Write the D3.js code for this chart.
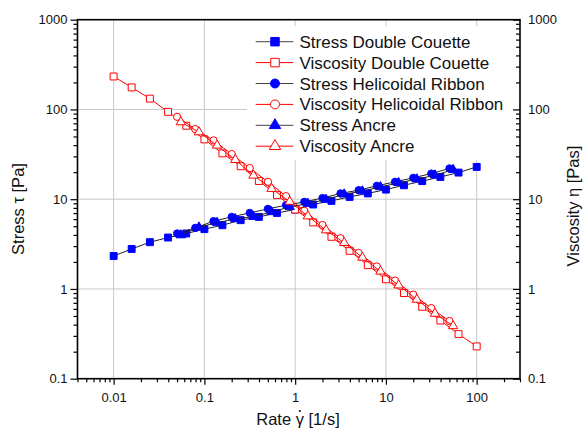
<!DOCTYPE html>
<html>
<head>
<meta charset="utf-8">
<script src="https://cdn.jsdelivr.net/npm/d3@7"></script>
<style>
  body { margin: 0; background: #fff; }
  svg { display: block; font-family: "Liberation Sans", Arial, sans-serif; }
</style>
</head>
<body>
<svg id="chart" width="584" height="432"></svg>
<script>
// shear rates [1/s]
const rateDC = [0.01, 0.0158, 0.0251, 0.0398, 0.0631, 0.1, 0.158, 0.251, 0.398, 0.631, 1,
                1.58, 2.51, 3.98, 6.31, 10, 15.8, 25.1, 39.8, 63.1, 100];
const rateHR = [0.0501, 0.0794, 0.126, 0.2, 0.316, 0.501, 0.794, 1.26, 2, 3.16, 5.01,
                7.94, 12.6, 20, 31.6, 50.1];
const rateAN = [0.055, 0.0871, 0.138, 0.219, 0.347, 0.55, 0.871, 1.38, 2.19, 3.47, 5.5,
                8.71, 13.8, 21.9, 34.7, 55];

// stress [Pa]
const stressDC = [2.33, 2.79, 3.32, 3.74, 4.15, 4.64, 5.13, 5.84, 6.35, 7.03, 7.67,
                  8.73, 9.58, 10.6, 11.6, 12.8, 14.3, 15.9, 17.7, 19.8, 22.9];
const stressHR = [4.15, 4.79, 5.69, 6.35, 7.03, 7.8, 8.58, 9.33, 10.3, 11.6, 12.6,
                  14.1, 15.6, 17.3, 19.3, 22.0];
const stressAN = [3.98, 4.87, 5.48, 6.02, 6.38, 7.21, 8.2, 8.93, 9.9, 11.35, 12.3,
                  13.7, 15.2, 16.7, 18.5, 21.3];

// viscosity [Pas]
const viscDC = [233, 176, 132, 94, 65.8, 46.4, 32.4, 23.3, 15.95, 11.1, 7.67,
                5.51, 3.81, 2.66, 1.84, 1.28, 0.9, 0.633, 0.445, 0.314, 0.229];
const viscHR = [82.8, 60.3, 45.2, 31.8, 22.2, 15.6, 10.8, 7.41, 5.15, 3.67, 2.52,
                1.78, 1.24, 0.865, 0.611, 0.439];
const viscAN = [72.3, 55.9, 39.7, 27.5, 18.4, 13.1, 9.4, 6.47, 4.52, 3.27, 2.24,
                1.57, 1.1, 0.762, 0.532, 0.387];

const xMajor = [0.01, 0.1, 1, 10, 100];
const yMajor = [0.1, 1, 10, 100, 1000];

const series = [
    { name: "Stress Double Couette",     x: rateDC, y: stressDC, shape: "square",   fill: true,  line: "#222" },
    { name: "Viscosity Double Couette",  x: rateDC, y: viscDC,   shape: "square",   fill: false, line: "#ff0000" },
    { name: "Stress Helicoidal Ribbon",  x: rateHR, y: stressHR, shape: "circle",   fill: true,  line: "#222" },
    { name: "Viscosity Helicoidal Ribbon", x: rateHR, y: viscHR, shape: "circle",   fill: false, line: "#ff0000" },
    { name: "Stress Ancre",              x: rateAN, y: stressAN, shape: "triangle", fill: true,  line: "#222" },
    { name: "Viscosity Ancre",           x: rateAN, y: viscAN,   shape: "triangle", fill: false, line: "#ff0000" }
];

const plotL = 77.5, plotR = 520, plotT = 19.7, plotB = 378.7;

const svg = d3.select("#chart");

const x = d3.scaleLog().domain([0.004, 300]).range([plotL, plotR]);
const y = d3.scaleLog().domain([0.1, 1000]).range([plotB, plotT]);

const xMinor = x.ticks().filter(v => !xMajor.some(m => Math.abs(m - v) / m < 1e-6));
const yMinor = y.ticks().filter(v => !yMajor.some(m => Math.abs(m - v) / m < 1e-6));

// grid
const grid = svg.append("g").attr("stroke", "#c8c8c8").attr("stroke-width", 1);
grid.selectAll("line.gx").data(xMajor).enter().append("line")
    .attr("x1", d => x(d)).attr("x2", d => x(d))
    .attr("y1", plotT).attr("y2", plotB);
grid.selectAll("line.gy").data(yMajor.slice(1, -1)).enter().append("line")
    .attr("x1", plotL).attr("x2", plotR)
    .attr("y1", d => y(d)).attr("y2", d => y(d));

// legend background hides the grid
svg.append("rect").attr("x", 247).attr("y", 26).attr("width", 268).attr("height", 134)
    .attr("fill", "#fff");

const symbolType = { square: d3.symbolSquare, circle: d3.symbolCircle, triangle: d3.symbolTriangle };
const symbolSize = { square: 48, circle: 42, triangle: 38 };

function marker(sel, s) {
    sel.attr("d", d3.symbol().type(symbolType[s.shape]).size(symbolSize[s.shape]))
        .attr("fill", s.fill ? "#0000ff" : "#fff")
        .attr("stroke", s.fill ? "#0000ff" : "#ff0000")
        .attr("stroke-width", 1);
}

const line = d3.line().x(d => x(d[0])).y(d => y(d[1]));

series.forEach(s => {
    const pts = s.x.map((v, i) => [v, s.y[i]]);
    const g = svg.append("g");
    g.append("path")
        .attr("d", line(pts))
        .attr("fill", "none")
        .attr("stroke", s.line)
        .attr("stroke-width", 1);
    g.selectAll("path.pt").data(pts).enter().append("path")
        .attr("class", "pt")
        .attr("transform", d => `translate(${x(d[0])},${y(d[1])})`)
        .call(marker, s);
});

// legend
const leg = svg.append("g");
series.forEach((s, i) => {
    const cy = 41.7 + i * 20.9;
    leg.append("line").attr("x1", 255.7).attr("x2", 293.3).attr("y1", cy).attr("y2", cy)
        .attr("stroke", s.line === "#222" ? "#444" : s.line).attr("stroke-width", 1);
    leg.append("path").attr("transform", `translate(275,${cy})`).call(marker, s)
        .attr("d", d3.symbol().type(symbolType[s.shape]).size(symbolSize[s.shape] * 1.5));
    leg.append("text").attr("x", 299.5).attr("y", cy + 6)
        .attr("font-size", 17).attr("fill", "#111").text(s.name);
});

// axes
const fmt = d => String(d);

function styleAxis(g) {
    g.select(".domain").remove();
    g.selectAll("line").attr("stroke", "#000").attr("stroke-width", 1.2);
    g.selectAll("text").attr("font-size", 13).attr("fill", "#111")
        .attr("font-family", '"Liberation Sans", Arial, sans-serif');
}

svg.append("g").attr("transform", `translate(0,${plotB})`)
    .call(d3.axisBottom(x).tickValues(xMinor).tickSize(3.5).tickFormat(""))
    .call(styleAxis);
svg.append("g").attr("transform", `translate(0,${plotB})`)
    .call(d3.axisBottom(x).tickValues(xMajor).tickSize(6).tickPadding(7.6).tickFormat(fmt))
    .call(styleAxis);

svg.append("g").attr("transform", `translate(${plotL},0)`)
    .call(d3.axisLeft(y).tickValues(yMinor).tickSize(4).tickFormat(""))
    .call(styleAxis);
svg.append("g").attr("transform", `translate(${plotL},0)`)
    .call(d3.axisLeft(y).tickValues(yMajor).tickSize(7).tickPadding(3).tickFormat(fmt))
    .call(styleAxis);

svg.append("g").attr("transform", `translate(${plotR},0)`)
    .call(d3.axisRight(y).tickValues(yMinor).tickSizeInner(-4).tickSizeOuter(0).tickFormat(""))
    .call(styleAxis);
svg.append("g").attr("transform", `translate(${plotR},0)`)
    .call(d3.axisRight(y).tickValues(yMajor).tickSizeInner(-7).tickSizeOuter(0).tickPadding(8).tickFormat(fmt))
    .call(styleAxis);

// frame
svg.append("rect").attr("x", plotL).attr("y", plotT)
    .attr("width", plotR - plotL).attr("height", plotB - plotT)
    .attr("fill", "none").attr("stroke", "#000").attr("stroke-width", 1.6);

// axis titles
svg.append("text").attr("transform", "translate(24,209) rotate(-90)")
    .attr("text-anchor", "middle").attr("font-size", 16.5).attr("fill", "#111")
    .text("Stress \u03c4 [Pa]");
svg.append("text").attr("transform", "translate(579,206) rotate(-90)")
    .attr("text-anchor", "middle").attr("font-size", 16.5).attr("fill", "#111")
    .text("Viscosity \u03b7 [Pas]");
const xTitle = svg.append("text").attr("x", 298).attr("y", 425)
    .attr("text-anchor", "middle").attr("font-size", 16.5).attr("fill", "#111")
    .text("Rate \u03b3 [1/s]");

// dot over gamma (shear rate)
const gExt = xTitle.node().getExtentOfChar(5);
svg.append("circle")
    .attr("cx", gExt.x + gExt.width / 2)
    .attr("cy", 411)
    .attr("r", 1.1)
    .attr("fill", "#111");
</script>
</body>
</html>
